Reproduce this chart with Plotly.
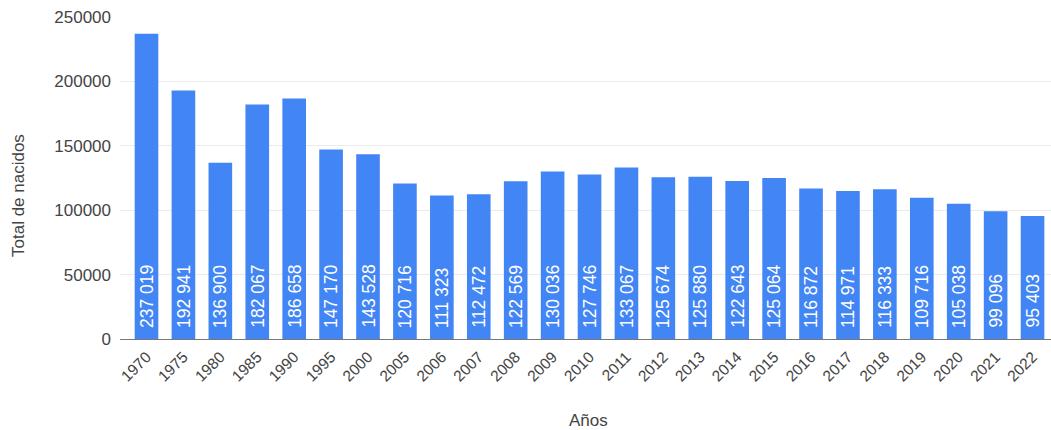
import plotly.graph_objects as go

years = ["1970", "1975", "1980", "1985", "1990", "1995", "2000", "2005", "2006", "2007",
         "2008", "2009", "2010", "2011", "2012", "2013", "2014", "2015", "2016", "2017",
         "2018", "2019", "2020", "2021", "2022"]
births = [237019, 192941, 136900, 182067, 186658, 147170, 143528, 120716, 111323, 112472,
          122569, 130036, 127746, 133067, 125674, 125880, 122643, 125064, 116872, 114971,
          116333, 109716, 105038, 99096, 95403]
y_ticks = [0, 50000, 100000, 150000, 200000, 250000]

labels = [f"{v:,}".replace(",", " ") for v in births]

W, H = 1051, 430
L, R, T, B = 120, 0, 17, 91
pw = W - L - R
ph = H - T - B
FONT = "Liberation Sans, Arial, sans-serif"

xs = list(range(len(years)))

fig = go.Figure(go.Bar(
    x=xs,
    y=births,
    marker=dict(color="#4285F4", line=dict(width=0)),
    hoverinfo="x+y",
))

annotations = [
    dict(text=lab, x=xv, y=0, xref="x", yref="y", textangle=-90,
         showarrow=False, xanchor="center", yanchor="bottom", yshift=9,
         font=dict(family=FONT, size=17.5, color="white"))
    for xv, lab in zip(xs, labels)
]
annotations += [
    dict(text="Total de nacidos", xref="paper", yref="paper",
         x=(18 - L) / pw, y=(H - B - 196) / ph, textangle=-90,
         showarrow=False, xanchor="center", yanchor="middle",
         font=dict(size=17, color="#444444")),
    dict(text="Años", xref="paper", yref="paper",
         x=(588 - L) / pw, y=(H - B - 420) / ph,
         showarrow=False, xanchor="center", yanchor="middle",
         font=dict(size=17, color="#444444")),
]

fig.update_layout(
    width=W, height=H,
    margin=dict(l=L, r=R, t=T, b=B),
    paper_bgcolor="white", plot_bgcolor="white",
    bargap=0.36,
    showlegend=False,
    font=dict(family=FONT, size=16, color="#444444"),
    xaxis=dict(
        tickmode="array",
        tickvals=xs,
        ticktext=years,
        tickangle=-45,
        range=[-0.718, 24.5],
        showgrid=False, showline=False, zeroline=False,
        ticks="", ticklabelstandoff=5,
        tickfont=dict(size=15.5, color="#444444"),
    ),
    yaxis=dict(
        range=[0, 250000],
        tickvals=y_ticks,
        tickformat="d",
        showgrid=True, gridcolor="#ebebeb", gridwidth=1,
        zeroline=True, zerolinecolor="#777777", zerolinewidth=1,
        showline=False, ticks="",
        ticklabelstandoff=8,
        tickfont=dict(size=17, color="#444444"),
    ),
    annotations=annotations,
)

fig.write_html("out.html")
